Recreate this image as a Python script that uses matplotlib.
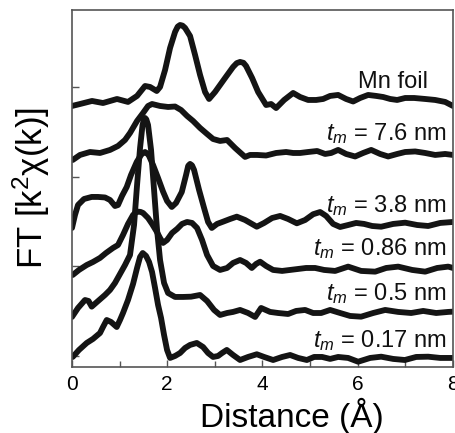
import matplotlib
matplotlib.use("Agg")
import matplotlib.pyplot as plt
from matplotlib.ticker import MultipleLocator, FixedLocator

plt.rcParams['font.family'] = ['Liberation Sans', 'DejaVu Sans']
plt.rcParams['mathtext.fontset'] = 'custom'
plt.rcParams['mathtext.rm'] = 'Liberation Sans'
plt.rcParams['mathtext.it'] = 'Liberation Sans:italic'

# ---- data (distance in Angstrom, stacked FT magnitude incl. vertical offset) ----
mn_x = [0, 0.168, 0.420, 0.651, 0.945, 1.176, 1.366, 1.534, 1.639, 1.779, 1.849, 1.954, 2.059, 2.164,
        2.220, 2.269, 2.320, 2.374, 2.479, 2.584, 2.689, 2.794, 2.878, 3.004, 3.214, 3.382, 3.460,
        3.529, 3.600, 3.655, 3.782,
        3.908, 4.076, 4.181, 4.286, 4.454, 4.643, 4.790, 4.958, 5.126, 5.273, 5.420, 5.588, 5.756,
        5.903, 6.050, 6.218, 6.387, 6.534, 6.681, 6.828, 6.996, 7.185, 7.416, 7.626, 7.836, 8.0]
mn_y = [2.787, 2.809, 2.843, 2.820, 2.865, 2.832, 2.899, 3.010, 2.999, 2.954, 2.999, 3.188, 3.434,
        3.612, 3.672, 3.690, 3.683, 3.657, 3.567, 3.356, 3.133, 2.943, 2.865, 2.943, 3.099, 3.222, 3.265,
        3.278, 3.268, 3.233, 3.099,
        2.943, 2.798, 2.809, 2.764, 2.854, 2.932, 2.887, 2.854, 2.854, 2.865, 2.899, 2.910,
        2.865, 2.837, 2.876, 2.910, 2.899, 2.887, 2.865, 2.854, 2.876, 2.876, 2.865, 2.854, 2.832, 2.787]

t76_x = [0.015, 0.168, 0.378, 0.588, 0.798, 0.966, 1.113, 1.218, 1.366, 1.492, 1.597, 1.681, 1.849,
         2.017, 2.164, 2.290, 2.416, 2.542, 2.689, 2.836, 2.962, 3.109, 3.256, 3.424, 3.634, 3.739,
         3.887, 4.076, 4.286, 4.496, 4.643, 4.790, 4.958, 5.147, 5.315, 5.441, 5.588, 5.756, 5.945,
         6.113, 6.282, 6.471, 6.639, 6.828, 6.996, 7.206, 7.416, 7.626, 7.836, 8.0]
t76_y = [2.185, 2.241, 2.274, 2.263, 2.297, 2.341, 2.408, 2.486, 2.620, 2.709, 2.787, 2.809, 2.787,
         2.776, 2.781, 2.742, 2.676, 2.620, 2.542, 2.475, 2.419, 2.397, 2.408, 2.319, 2.219, 2.241,
         2.241, 2.235, 2.263, 2.274, 2.263, 2.263, 2.274, 2.285, 2.252, 2.263, 2.297, 2.252, 2.224,
         2.263, 2.297, 2.252, 2.224, 2.252, 2.274, 2.280, 2.263, 2.241, 2.252, 2.241]

t38_x = [0, 0.063, 0.126, 0.252, 0.414, 0.546, 0.693, 0.798, 0.903, 0.966, 1.050, 1.149, 1.239,
         1.359, 1.450, 1.490, 1.534, 1.580, 1.618, 1.702, 1.807, 1.912, 1.996, 2.095, 2.185, 2.305,
         2.395, 2.440, 2.479, 2.520,
         2.563, 2.668, 2.773, 2.857, 2.935, 3.046, 3.172, 3.319, 3.460, 3.634, 3.880, 4.034, 4.202,
         4.370, 4.538, 4.721, 4.895, 5.063, 5.210, 5.336, 5.483, 5.630, 5.798, 5.966, 6.134, 6.303,
         6.492, 6.744, 6.996, 7.248, 7.479, 7.731, 8.0]
t38_y = [1.427, 1.572, 1.683, 1.750, 1.773, 1.773, 1.767, 1.739, 1.672, 1.683, 1.784, 1.884, 2.018,
         2.163, 2.241, 2.262, 2.274, 2.258, 2.230, 2.129, 1.984, 1.832, 1.728, 1.661, 1.706, 1.828,
         2.018, 2.120, 2.141, 2.125,
         2.074, 1.851, 1.650, 1.494, 1.427, 1.472, 1.497, 1.527, 1.553, 1.516, 1.441, 1.483, 1.538,
         1.561, 1.527, 1.479, 1.516, 1.580, 1.605, 1.561, 1.472, 1.438, 1.460, 1.483, 1.472, 1.449,
         1.441, 1.472, 1.486, 1.460, 1.449, 1.483, 1.494]

t086_x = [0.015, 0.147, 0.309, 0.441, 0.588, 0.714, 0.861, 0.966, 1.071, 1.176, 1.282, 1.340, 1.387,
          1.440, 1.492,
          1.597, 1.681, 1.779, 1.849, 1.912, 1.996, 2.101, 2.206, 2.311, 2.416, 2.521, 2.626, 2.731,
          2.836, 2.962, 3.109, 3.256, 3.382, 3.529, 3.655, 3.775, 3.866, 3.950, 4.076, 4.223, 4.412,
          4.580, 4.748, 4.916, 5.105, 5.294, 5.525, 5.798, 6.071, 6.366, 6.597, 6.849, 7.143, 7.416,
          7.668, 7.899, 8.0]
t086_y = [0.903, 0.959, 1.014, 1.048, 1.093, 1.148, 1.204, 1.237, 1.349, 1.472, 1.572, 1.600, 1.609,
          1.606, 1.594,
          1.538, 1.472, 1.386, 1.315, 1.260, 1.293, 1.371, 1.416, 1.472, 1.494, 1.483, 1.427, 1.293,
          1.126, 1.003, 0.959, 0.981, 1.037, 1.070, 1.037, 0.981, 1.026, 1.051, 1.003, 0.959, 0.948,
          0.959, 0.970, 0.981, 0.981, 0.959, 0.948, 0.996, 0.948, 0.940, 0.981, 0.996, 0.959, 0.940,
          0.981, 0.996, 0.981]

t05_x = [0, 0.126, 0.273, 0.347, 0.414, 0.525, 0.693, 0.798, 0.903, 1.008, 1.113, 1.218, 1.303,
         1.366, 1.429, 1.481, 1.510, 1.534, 1.560, 1.597, 1.660, 1.723, 1.786, 1.849, 1.933, 2.017,
         2.164, 2.332,
         2.500, 2.689, 2.836, 2.983, 3.109, 3.256, 3.382, 3.529, 3.697, 3.845, 3.971, 4.160, 4.328,
         4.538, 4.706, 4.895, 5.063, 5.231, 5.420, 5.630, 5.840, 6.071, 6.324, 6.576, 6.849, 7.122,
         7.374, 7.647, 7.899, 8.0]
t05_y = [0.435, 0.535, 0.624, 0.613, 0.550, 0.602, 0.680, 0.736, 0.814, 0.914, 1.014, 1.126, 1.460,
         1.906, 2.319, 2.575, 2.635, 2.653, 2.638, 2.575, 2.297, 1.851, 1.405, 1.070, 0.814, 0.702,
         0.658, 0.658,
         0.661, 0.680, 0.613, 0.513, 0.457, 0.479, 0.491, 0.513, 0.479, 0.435, 0.535, 0.491, 0.479,
         0.468, 0.502, 0.513, 0.479, 0.479, 0.513, 0.479, 0.446, 0.438, 0.479, 0.513, 0.491, 0.479,
         0.502, 0.479, 0.491, 0.494]

t017_x = [0.015, 0.147, 0.309, 0.441, 0.588, 0.651, 0.729, 0.819, 0.939, 1.008, 1.071, 1.176, 1.282,
          1.366, 1.429, 1.485, 1.555, 1.618, 1.681, 1.744, 1.807, 1.870, 1.933, 1.996, 2.059, 2.164,
          2.269, 2.374, 2.479, 2.620, 2.752, 2.857, 2.962, 3.067, 3.151, 3.250, 3.382, 3.529, 3.697,
          3.880, 4.034, 4.223, 4.412, 4.580, 4.748, 4.931, 5.084, 5.252, 5.420, 5.588, 5.798, 6.008,
          6.261, 6.492, 6.744, 6.989, 7.227, 7.479, 7.731, 8.0]
t017_y = [-0.011, 0.067, 0.145, 0.190, 0.256, 0.323, 0.401, 0.379, 0.323, 0.401, 0.479, 0.624, 0.803,
          0.981, 1.104, 1.148, 1.115, 1.048, 0.936, 0.758, 0.569, 0.424, 0.234, 0.067, -0.022, 0.000,
          0.033, 0.089, 0.123, 0.145, 0.100, 0.033, -0.011, 0.000, 0.033, 0.067, 0.011, -0.045, -0.011,
          0.019, -0.011, -0.045, -0.011, 0.011, -0.022, -0.045, -0.011, -0.011, -0.033, -0.011, -0.022,
          -0.064, -0.022, -0.008, -0.033, -0.045, -0.011, -0.008, -0.022, -0.022]

labels = ["Mn foil", r"$t_m$ = 7.6 nm", r"$t_m$ = 3.8 nm", r"$t_m$ = 0.86 nm",
          r"$t_m$ = 0.5 nm", r"$t_m$ = 0.17 nm"]
label_x = [7.48, 7.867, 7.867, 7.867, 7.867, 7.867]
label_y = [2.988, 2.408, 1.605, 1.126, 0.624, 0.100]

curves = [(mn_x, mn_y), (t76_x, t76_y), (t38_x, t38_y), (t086_x, t086_y),
          (t05_x, t05_y), (t017_x, t017_y)]

fig = plt.figure(figsize=(4.56, 4.33), dpi=100)
ax = fig.add_axes([72 / 456, (433 - 367) / 433, 381 / 456, 357 / 433])

for cx, cy in curves:
    ax.plot(cx, cy, color='#141414', lw=4.2, solid_joinstyle='round', solid_capstyle='round')

for txt, tx, ty in zip(labels, label_x, label_y):
    ax.text(tx, ty, txt, ha='right', va='baseline', fontsize=17, color='#111111')

ax.set_xlim(0, 8)
ax.set_ylim(-0.123, 3.857)
ax.xaxis.set_major_locator(MultipleLocator(2))
ax.xaxis.set_minor_locator(MultipleLocator(1))
ax.yaxis.set_major_locator(FixedLocator([0, 1, 2, 3]))
ax.set_yticklabels([])
ax.tick_params(axis='x', which='major', direction='in', length=5, width=1, labelsize=15,
               color='#555555', pad=6, top=False)
ax.tick_params(axis='x', which='minor', direction='in', length=4, width=1, color='#555555', top=False)
ax.tick_params(axis='y', which='major', direction='in', length=5, width=1, color='#555555', right=False)
for s in ax.spines.values():
    s.set_color('#555555')
    s.set_linewidth(1.2)

ax.set_xlabel('Distance (Å)', fontsize=24)
ax.xaxis.set_label_coords(0.576, -0.087)
ax.set_ylabel(r'FT [k$^{\mathrm{2}}$χ(k)]', fontsize=25)
ax.yaxis.set_label_coords(-0.052, 0.5)

fig.savefig('out.png', dpi=100)
